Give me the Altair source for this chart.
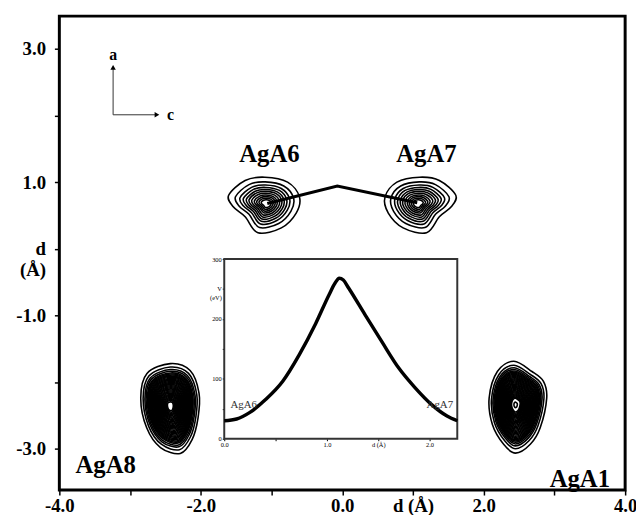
import altair as alt
import pandas as pd

# ---------------- main frame ----------------
X_DOMAIN = [-4.0, 4.0]
Y_DOMAIN = [-3.62, 3.49]
x_ticks = [-4, -3, -2, -1, 0, 1, 2, 3, 4]
y_ticks = [-3, -2, -1, 0, 1, 2, 3]

# ---------------- atoms (contour centres and outer contour offsets, Å) ----------------
atom_names = ["AgA6", "AgA7", "AgA8", "AgA1"]
atom_cx = [-1.07, 1.07, -2.43, 2.45]
atom_cy = [0.68, 0.68, -2.36, -2.34]

ag6_dx = [-0.536, -0.303, -0.024, 0.297, 0.465, 0.419, 0.209, -0.122, -0.303, -0.471]
ag6_dy = [0.123, 0.345, 0.394, 0.320, 0.098, -0.144, -0.366, -0.440, -0.199, -0.050]
ag7_dx = [0.536, 0.303, 0.024, -0.297, -0.465, -0.419, -0.209, 0.122, 0.303, 0.471]
ag7_dy = [0.123, 0.345, 0.394, 0.320, 0.098, -0.144, -0.366, -0.440, -0.199, -0.050]
ag8_dx = [-0.331, 0.0, 0.279, 0.405, 0.391, 0.307, 0.140, -0.140, -0.335, -0.419]
ag8_dy = [0.489, 0.637, 0.533, 0.193, -0.178, -0.504, -0.711, -0.622, -0.326, 0.119]
ag1_dx = [-0.024, -0.257, -0.373, -0.327, -0.168, 0.0, 0.209, 0.349, 0.441, 0.395, 0.232]
ag1_dy = [0.652, 0.499, 0.099, -0.296, -0.593, -0.726, -0.593, -0.345, 0.099, 0.351, 0.499]

# contour levels as fractions of the outer contour
levels_top = [1.0, 0.82, 0.70, 0.61, 0.53, 0.46, 0.39, 0.32, 0.26, 0.20, 0.14]
levels_ag8 = [1.0, 0.92, 0.86, 0.82, 0.78, 0.755, 0.73, 0.705, 0.68, 0.655, 0.63, 0.605,
              0.58, 0.555, 0.53, 0.505, 0.48, 0.455, 0.43, 0.405, 0.38, 0.355, 0.33,
              0.305, 0.28, 0.255, 0.23, 0.205, 0.18, 0.155, 0.13, 0.10]
levels_ag1 = [1.0, 0.91, 0.85, 0.81, 0.775, 0.75, 0.725, 0.70, 0.675, 0.65, 0.625, 0.60,
              0.575, 0.55, 0.525, 0.50, 0.475, 0.45, 0.425, 0.40, 0.375, 0.35, 0.325,
              0.30, 0.275, 0.25, 0.225, 0.20, 0.175, 0.15, 0.06]

shapes = {
    "AgA6": (ag6_dx, ag6_dy, levels_top),
    "AgA7": (ag7_dx, ag7_dy, levels_top),
    "AgA8": (ag8_dx, ag8_dy, levels_ag8),
    "AgA1": (ag1_dx, ag1_dy, levels_ag1),
}

# labels
label_x = [-1.03, 1.19, -3.345, 3.36]
label_y = [1.30, 1.30, -3.37, -3.58]

# migration path AgA6 -> saddle -> AgA7
path_x = [-1.06, -0.07, 1.06]
path_y = [0.68, 0.94, 0.69]

# crystal axes arrows
arrow_origin = (-3.24, 2.01)
arrow_a_top = 2.72
arrow_c_end = -2.62

# ---------------- inset: energy profile ----------------
inset_d = [0.0, 0.12, 0.25, 0.40, 0.57, 0.73, 0.89, 1.02, 1.08, 1.12, 1.16, 1.21,
           1.375, 1.535, 1.70, 1.86, 2.02, 2.17, 2.27]
inset_V = [30, 33, 44, 65, 96, 140, 192, 240, 260, 268, 265, 252,
           206, 162, 118, 85, 57, 38, 30]
INSET_X_DOMAIN = [0.0, 2.27]
INSET_Y_DOMAIN = [0, 300]
inset_x_ticks = [0.0, 0.5, 1.0, 1.5, 2.0]
inset_y_ticks = [0, 50, 100, 150, 200, 250, 300]
inset_label_names = ["AgA6", "AgA7"]
inset_label_d = [0.19, 2.10]
inset_label_V = [52, 52]

# ---------------- build tables ----------------
rows = []
for name, cx, cy in zip(atom_names, atom_cx, atom_cy):
    dx, dy, levels = shapes[name]
    for k, f in enumerate(levels):
        for i, (ux, uy) in enumerate(zip(dx, dy)):
            rows.append({"ring": f"{name}-{k}", "i": i, "x": cx + f * ux, "y": cy + f * uy})
contours = pd.DataFrame(rows)

labels_df = pd.DataFrame({"t": atom_names, "x": label_x, "y": label_y})
path_df = pd.DataFrame({"x": path_x, "y": path_y, "i": [0, 1, 2]})
arrow_v = pd.DataFrame({"x": [arrow_origin[0]], "y": [arrow_origin[1]], "y2": [arrow_a_top]})
arrow_h = pd.DataFrame({"x": [arrow_origin[0]], "x2": [arrow_c_end], "y": [arrow_origin[1]]})
head_up = pd.DataFrame({"x": [arrow_origin[0]], "y": [arrow_a_top]})
head_right = pd.DataFrame({"x": [arrow_c_end], "y": [arrow_origin[1]]})
axis_letters = pd.DataFrame({"t": ["a", "c"], "x": [arrow_origin[0], -2.43], "y": [2.83, 1.93]})

inset_curve = pd.DataFrame({"d": inset_d, "V": inset_V})
inset_box = pd.DataFrame({"d": [INSET_X_DOMAIN[0]], "d2": [INSET_X_DOMAIN[1]],
                          "V": [INSET_Y_DOMAIN[0]], "V2": [INSET_Y_DOMAIN[1]]})
inset_labels = pd.DataFrame({"t": inset_label_names, "d": inset_label_d, "V": inset_label_V})

SERIF = "Liberation Serif"
W, H = 573, 480

main_x_axis = alt.Axis(values=x_ticks, title=None, domain=False, grid=False,
                       tickSize=5, tickWidth=1.5, tickColor="black",
                       labelFont=SERIF, labelFontWeight="bold", labelFontSize=19,
                       labelColor="black", labelPadding=2, labelFlush=False,
                       labelExpr="datum.value == 1 ? 'd (Å)' : (abs(datum.value) % 2 == 0 ? datum.value + '.0' : '')")
main_y_axis = alt.Axis(values=y_ticks, title=None, domain=False, grid=False,
                       tickSize=5, tickWidth=1.5, tickColor="black",
                       labelFont=SERIF, labelFontWeight="bold", labelFontSize=19,
                       labelColor="black", labelPadding=9, labelFlush=False,
                       labelExpr="datum.value == 0 ? ['d', '(Å)'] : (abs(datum.value) % 2 == 1 ? datum.value + '.0' : '')")


def mx(field):
    return alt.X(field, type="quantitative",
                 scale=alt.Scale(domain=X_DOMAIN, nice=False, zero=False), axis=main_x_axis)


def my(field):
    return alt.Y(field, type="quantitative",
                 scale=alt.Scale(domain=Y_DOMAIN, nice=False, zero=False), axis=main_y_axis)


contour_layer = alt.Chart(contours).mark_line(
    interpolate="cardinal-closed", color="black", strokeWidth=1.6
).encode(x=mx("x"), y=my("y"), detail="ring:N", order="i:Q")

path_layer = alt.Chart(path_df).mark_line(color="black", strokeWidth=3).encode(
    x=mx("x"), y=my("y"), order="i:Q")

arrow_v_layer = alt.Chart(arrow_v).mark_rule(color="#333", strokeWidth=1).encode(
    x=mx("x"), y=my("y"), y2="y2")
arrow_h_layer = alt.Chart(arrow_h).mark_rule(color="#333", strokeWidth=1).encode(
    x=mx("x"), x2="x2", y=my("y"))
head_up_layer = alt.Chart(head_up).mark_point(shape="triangle-up", filled=True, size=30,
                                              color="black", opacity=1).encode(x=mx("x"), y=my("y"))
head_right_layer = alt.Chart(head_right).mark_point(shape="triangle-right", filled=True, size=30,
                                                    color="black", opacity=1).encode(x=mx("x"), y=my("y"))
letters_layer = alt.Chart(axis_letters).mark_text(
    font=SERIF, fontWeight="bold", fontSize=16, color="black", baseline="alphabetic", align="center"
).encode(x=mx("x"), y=my("y"), text="t:N")

labels_layer = alt.Chart(labels_df).mark_text(
    font=SERIF, fontWeight="bold", fontSize=25, color="black", baseline="alphabetic", align="center"
).encode(x=mx("x"), y=my("y"), text="t:N")

main = alt.layer(contour_layer, path_layer, arrow_v_layer, arrow_h_layer,
                 head_up_layer, head_right_layer, letters_layer, labels_layer)

# inset axes, placed by pixel ranges inside the main plot
INSET_X_RANGE = [167, 403]
INSET_Y_RANGE = [428, 246]

inset_x_axis = alt.Axis(values=inset_x_ticks, title=None, orient="bottom", offset=-52,
                        grid=False, domain=False, tickSize=2, tickColor="black",
                        labelFont=SERIF, labelFontSize=6.5, labelColor="black",
                        labelPadding=1, labelFlush=False,
                        labelExpr="datum.value == 1.5 ? 'd (Å)' : (datum.value == 0.5 ? '' : format(datum.value, '.1f'))")
inset_y_axis = alt.Axis(values=inset_y_ticks, title=None, orient="left", offset=-167,
                        grid=False, domain=False, tickSize=2, tickColor="black",
                        labelFont=SERIF, labelFontSize=6.5, labelColor="black",
                        labelPadding=1, labelFlush=False,
                        labelExpr="datum.value == 250 ? ['V', '(eV)'] : (datum.value % 100 == 0 ? '' + datum.value : '')")


def ix(field):
    return alt.X(field, type="quantitative",
                 scale=alt.Scale(domain=INSET_X_DOMAIN, range=INSET_X_RANGE, nice=False, zero=False),
                 axis=inset_x_axis)


def iy(field):
    return alt.Y(field, type="quantitative",
                 scale=alt.Scale(domain=INSET_Y_DOMAIN, range=INSET_Y_RANGE, nice=False, zero=False),
                 axis=inset_y_axis)


inset_box_layer = alt.Chart(inset_box).mark_rect(fill="white", stroke="#333", strokeWidth=2).encode(
    x=ix("d"), x2="d2", y=iy("V"), y2="V2")
inset_curve_layer = alt.Chart(inset_curve).mark_line(
    interpolate="monotone", color="black", strokeWidth=3.5).encode(x=ix("d"), y=iy("V"))
inset_label_layer = alt.Chart(inset_labels).mark_text(
    font=SERIF, fontSize=11, color="#333", baseline="alphabetic", align="center"
).encode(x=ix("d"), y=iy("V"), text="t:N")

inset = alt.layer(inset_box_layer, inset_curve_layer, inset_label_layer)

chart = alt.layer(main, inset).resolve_scale(x="independent", y="independent").properties(
    width=W, height=H,
    padding={"left": 52, "top": 5, "right": 11, "bottom": 22},
    autosize=alt.AutoSizeParams(type="none"),
    background="white",
).configure_view(stroke="black", strokeWidth=3)

chart.save("out.html", embed_options={"renderer": "svg", "actions": False})
